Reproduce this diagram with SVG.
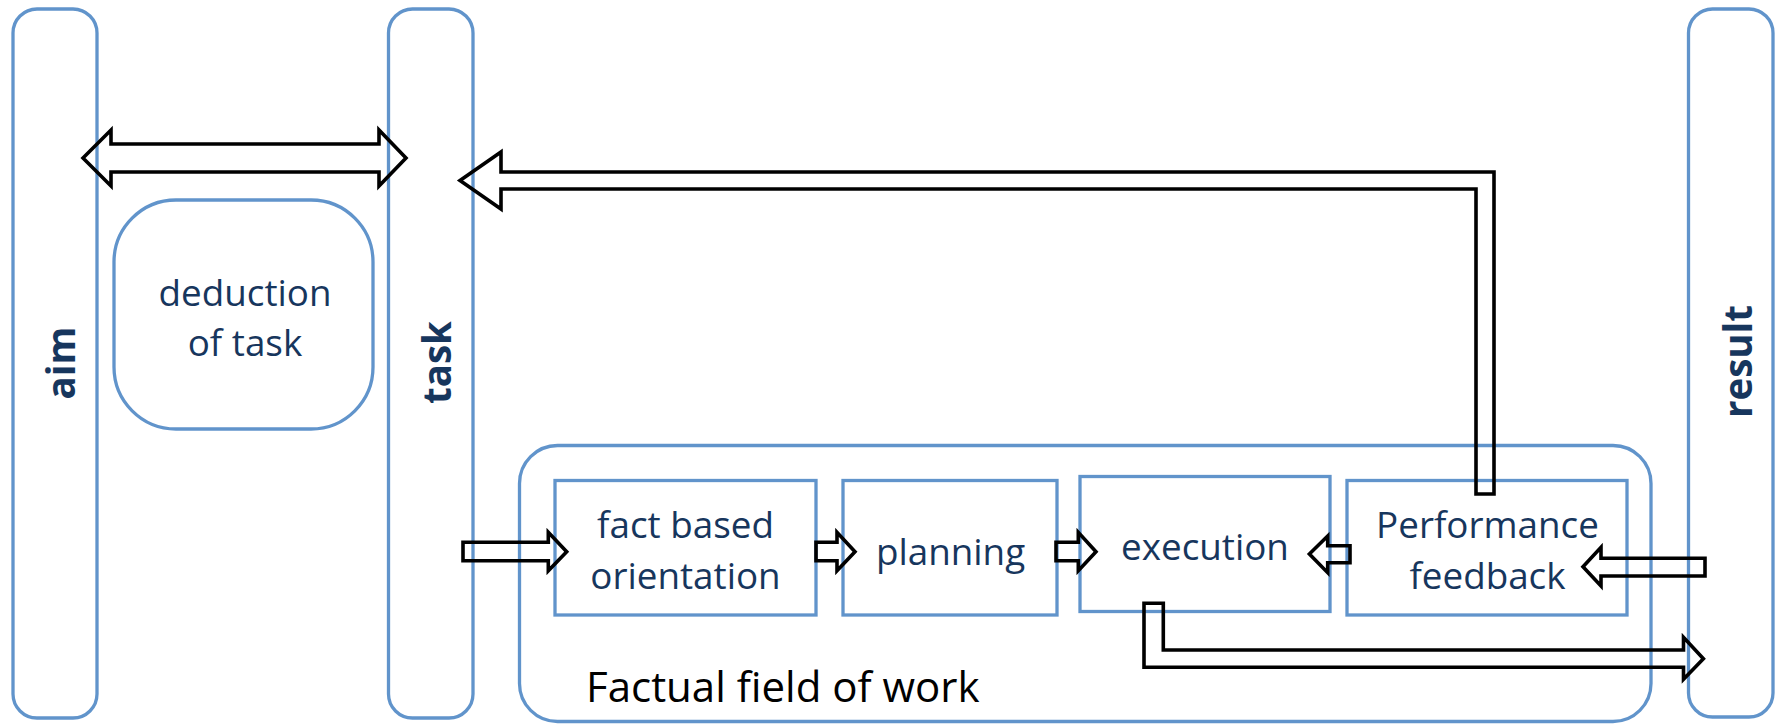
<svg xmlns="http://www.w3.org/2000/svg" width="1779" height="724" viewBox="0 0 1779 724">
  <style>
    .frame { fill: none; stroke: #6194cb; stroke-width: 3.3; }
    .lbl { font-family: "Open Sans", "Noto Sans", sans-serif; font-size: 36.8px; fill: #17365d; text-anchor: middle; }
    .bar { font-family: "Open Sans", "Noto Sans", sans-serif; font-size: 38.5px; font-weight: bold; fill: #17365d; text-anchor: middle; }
    .field { font-family: "Open Sans", "Noto Sans", sans-serif; font-size: 42px; fill: #000; }
    .arrow { fill: none; stroke: #000; stroke-width: 3.6; stroke-linejoin: miter; }
  </style>
  <rect width="1779" height="724" fill="#fff"/>

  <!-- vertical bars -->
  <g id="aim">
    <rect class="frame" x="13" y="9" width="84" height="709" rx="24"/>
    <text class="bar" transform="translate(75,363) rotate(-90)">aim</text>
  </g>
  <g id="task">
    <rect class="frame" x="388.5" y="9" width="84.5" height="709" rx="24"/>
    <text class="bar" transform="translate(451,362.5) rotate(-90)">task</text>
  </g>
  <g id="result">
    <rect class="frame" x="1688.5" y="9" width="84.5" height="708" rx="24"/>
    <text class="bar" transform="translate(1751.5,361.5) rotate(-90)">result</text>
  </g>

  <g id="deduction">
    <rect class="frame" x="114" y="200" width="259" height="229" rx="62"/>
    <text class="lbl" x="245" y="306">deduction</text>
    <text class="lbl" x="245" y="356">of task</text>
  </g>

  <!-- work area with its four steps -->
  <g id="factual-field">
    <rect class="frame" x="519.5" y="445.5" width="1131.5" height="276" rx="38"/>
    <text class="field" x="586" y="701.5">Factual field of work</text>
  </g>
  <g id="orientation">
    <rect class="frame" x="555" y="480.5" width="261" height="134.5"/>
    <text class="lbl" x="685.5" y="538">fact based</text>
    <text class="lbl" x="685.5" y="589">orientation</text>
  </g>
  <g id="planning">
    <rect class="frame" x="843" y="480.5" width="214" height="134.5"/>
    <text class="lbl" x="950.5" y="565">planning</text>
  </g>
  <g id="execution">
    <rect class="frame" x="1080" y="476.5" width="250" height="135"/>
    <text class="lbl" x="1205" y="560">execution</text>
  </g>
  <g id="feedback">
    <rect class="frame" x="1347" y="480.5" width="280" height="134.5"/>
    <text class="lbl" x="1487.5" y="538">Performance</text>
    <text class="lbl" x="1487.5" y="589">feedback</text>
  </g>

  <!-- block arrows -->
  <g id="connectors">
    <!-- aim <-> task -->
    <path class="arrow" d="M83,158 L111,130 V144 H379 V130 L406,158 L379,186 V172 H111 V186 Z"/>
    <!-- feedback loop back to task -->
    <path class="arrow" d="M460,180.5 L501,152 V172 H1494 V494 H1476 V189 H501 V209 Z"/>
    <!-- task -> fact based orientation -->
    <path class="arrow" d="M463,542.3 H548.3 V532.3 L566.7,551.7 L548.3,570.7 V560.7 H463 Z"/>
    <!-- orientation -> planning -->
    <path class="arrow" d="M816,542.3 H837 V532.3 L855,551.7 L837,570.7 V560.7 H816 Z"/>
    <!-- planning -> execution -->
    <path class="arrow" d="M1056,542.3 H1078.3 V532.3 L1096,551.7 L1078.3,570.7 V560.7 H1056 Z"/>
    <!-- feedback -> execution -->
    <path class="arrow" d="M1350,545.7 H1327.7 V536 L1309.4,554 L1327.7,572.7 V562.7 H1350 Z"/>
    <!-- result -> feedback -->
    <path class="arrow" d="M1705,558.3 H1601 V547.3 L1583,566.7 L1601,586 V576 H1705 Z"/>
    <!-- execution -> result -->
    <path class="arrow" d="M1144,603.3 H1163.3 V650 H1683.5 V637.3 L1703.4,658.7 L1683.5,679.3 V667.3 H1144 Z"/>
  </g>
</svg>
